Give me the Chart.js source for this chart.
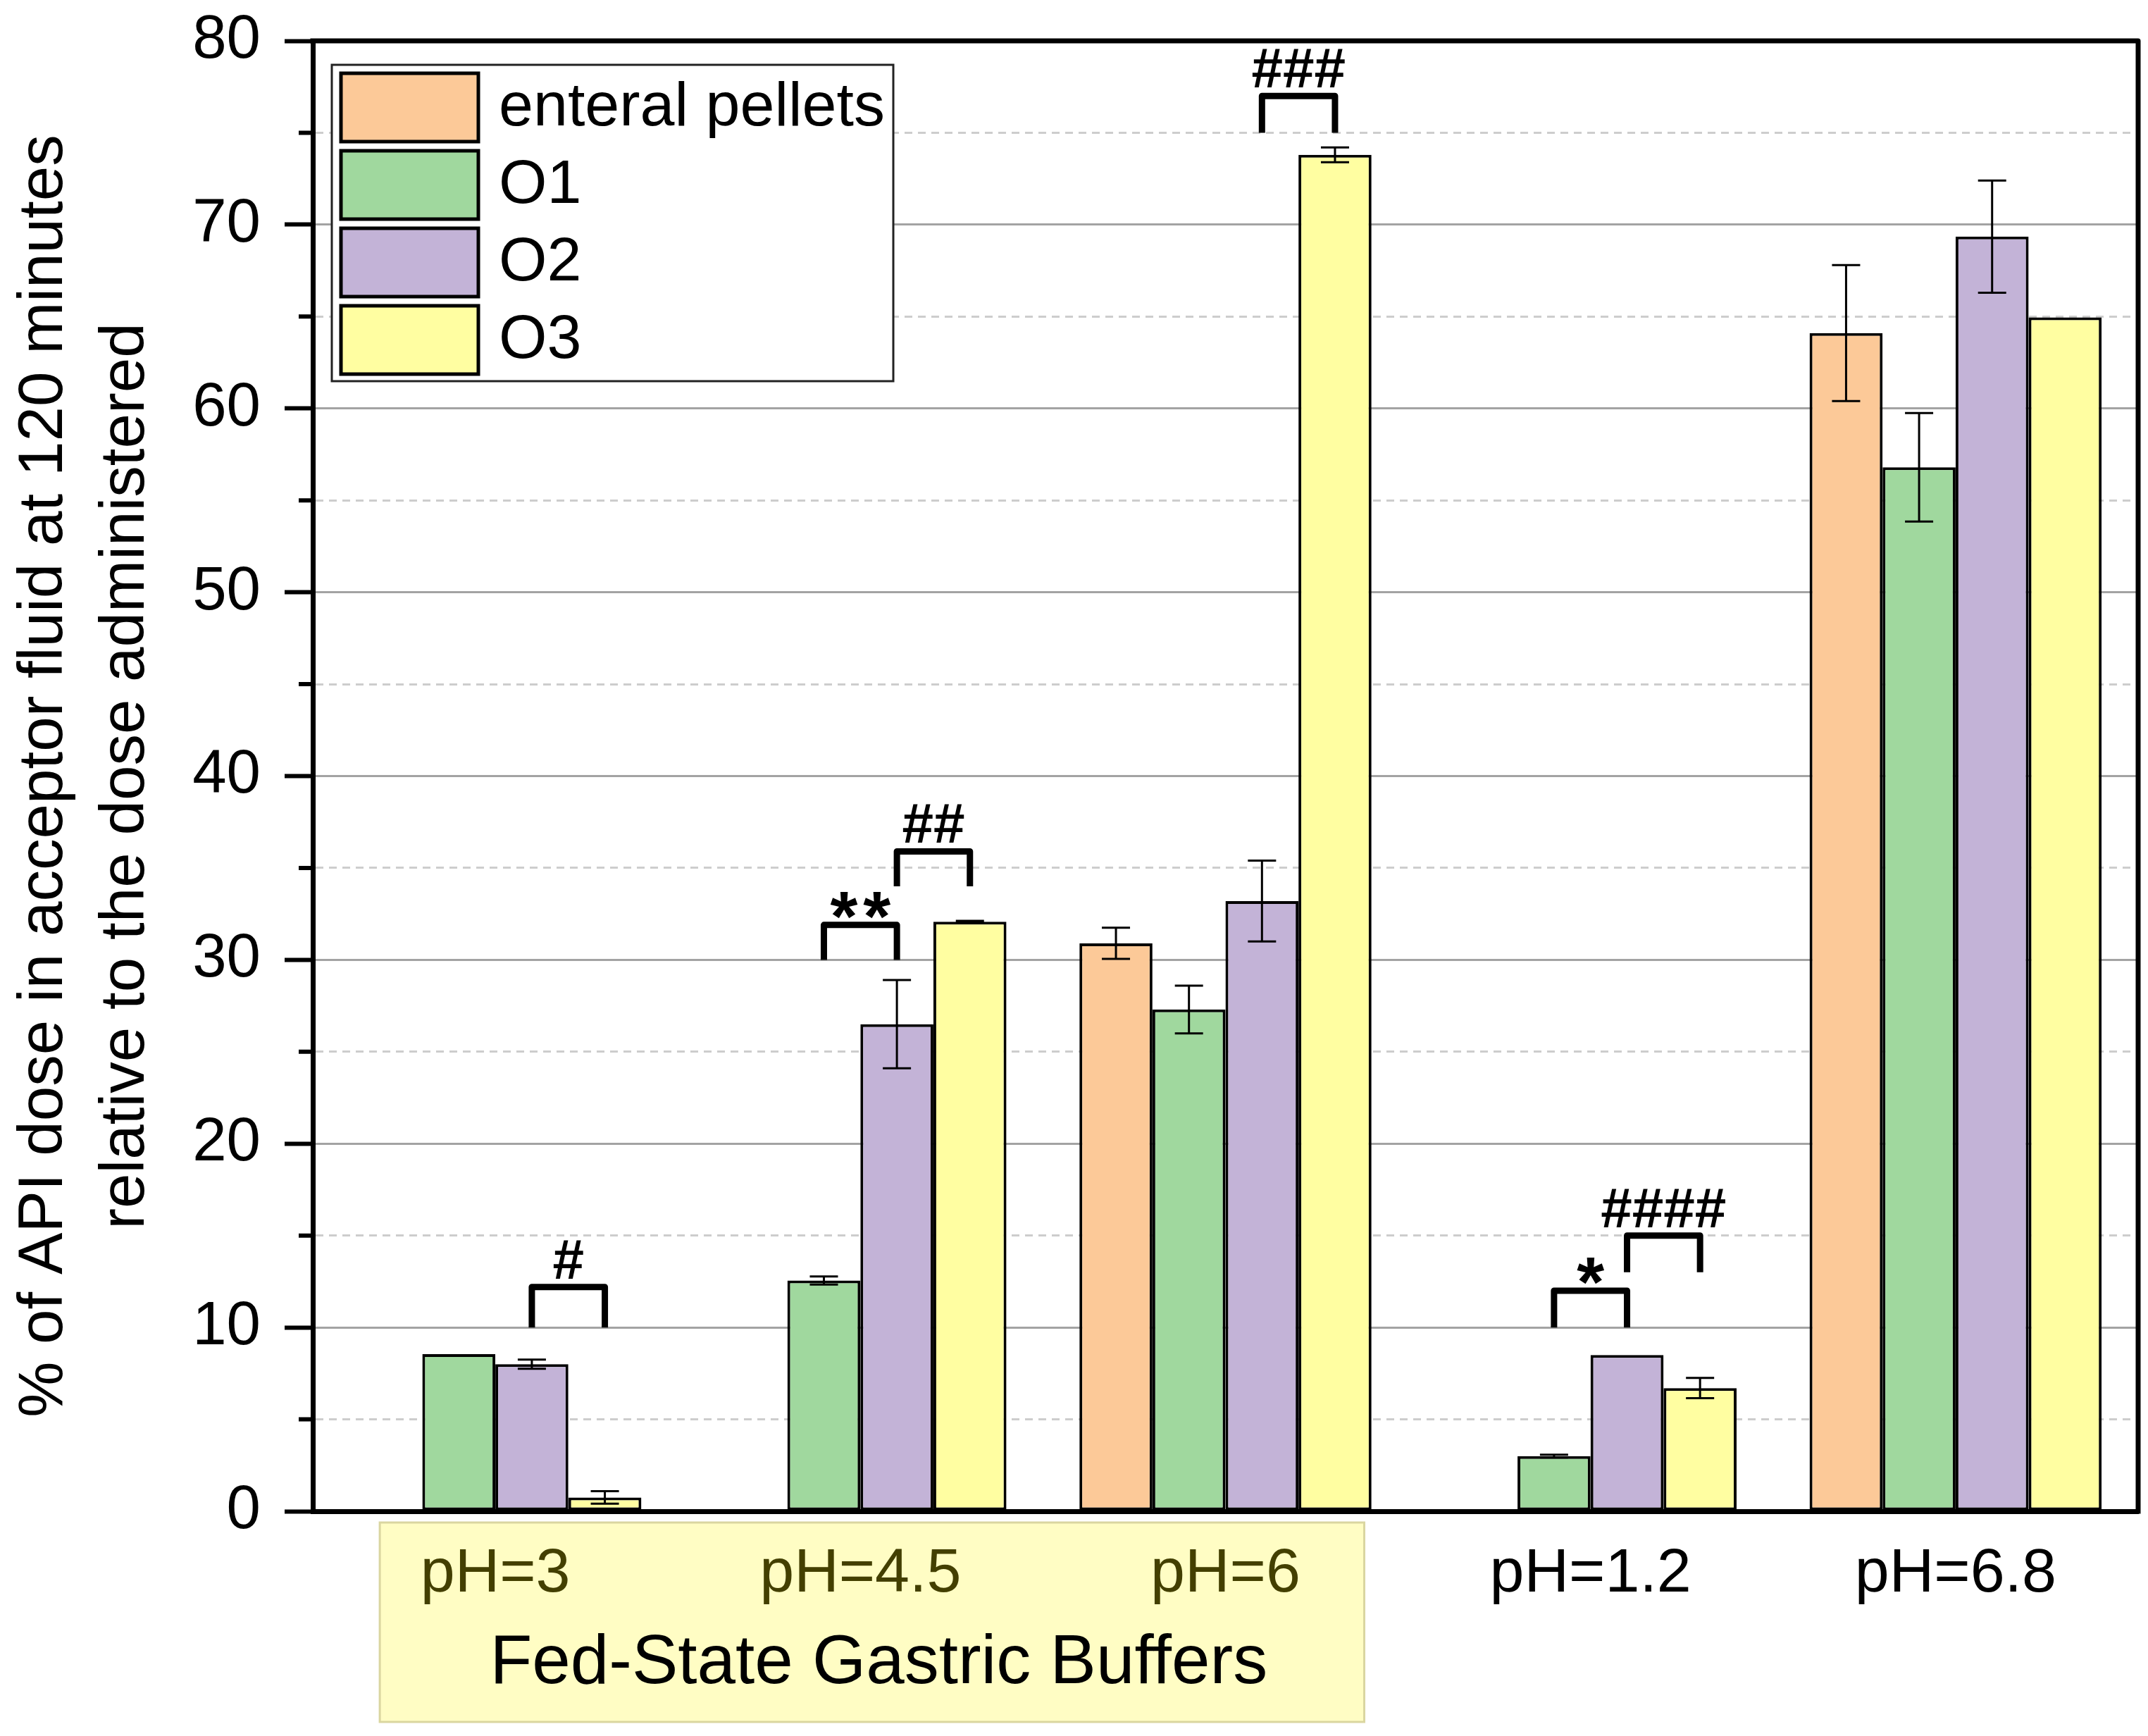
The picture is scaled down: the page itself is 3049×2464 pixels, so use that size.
<!DOCTYPE html>
<html>
<head>
<meta charset="utf-8">
<script src="https://cdn.jsdelivr.net/npm/chart.js@4.4.1/dist/chart.umd.min.js"></script>
<style>
  html, body { margin: 0; padding: 0; background: #fff; }
  canvas { display: block; }
</style>
</head>
<body>
<canvas id="chart" width="3049" height="2464"></canvas>
<script>
// ---------- data ----------
const categories = ['pH=3', 'pH=4.5', 'pH=6', 'pH=1.2', 'pH=6.8'];
const seriesNames = ['enteral pellets', 'O1', 'O2', 'O3'];

const enteralValues = [null, null, 30.9, null, 64.1];
const enteralErrors = [null, null, 0.85, null, 3.7];
const o1Values = [8.55, 12.55, 27.3, 3.0, 56.8];
const o1Errors = [0, 0.22, 1.3, 0.08, 2.95];
const o2Values = [8.0, 26.5, 33.2, 8.5, 69.35];
const o2Errors = [0.25, 2.4, 2.2, 0, 3.05];
const o3Values = [0.75, 32.07, 73.8, 6.7, 64.95];
const o3Errors = [0.34, 0.05, 0.4, 0.55, 0];

const yTicks = [0, 10, 20, 30, 40, 50, 60, 70, 80];

// significance brackets: category index, dataset pair, bracket foot / top (y units), label
const sigMarks = [
    { cat: 0, from: 2, to: 3, base: 10, top: 12.2, text: '#' },
    { cat: 1, from: 1, to: 2, base: 30, top: 31.9, text: '**' },
    { cat: 1, from: 2, to: 3, base: 34, top: 35.9, text: '##' },
    { cat: 2, from: 2, to: 3, base: 75, top: 77, text: '###' },
    { cat: 3, from: 1, to: 2, base: 10, top: 12, text: '*' },
    { cat: 3, from: 2, to: 3, base: 13, top: 15, text: '####' }
];

const colors = ['#FCC998', '#A0D89E', '#C3B3D7', '#FFFEA1'];
const FONT = "'Liberation Sans', Arial, sans-serif";
Chart.defaults.font.family = FONT;
Chart.defaults.color = '#000';

// yellow box + group title under the first three categories
const bufferBoxPlugin = {
    id: 'bufferBox',
    beforeDraw(chart) {
        const { ctx, scales: { x } } = chart;
        ctx.save();
        ctx.fillStyle = '#fff';
        ctx.fillRect(0, 0, chart.width, chart.height);
        const p0 = x.getPixelForValue(0);
        const p2 = x.getPixelForValue(2);
        const left = p0 - 164, right = p2 + 197;
        ctx.fillStyle = '#FFFDC4';
        ctx.fillRect(left, 2161, right - left, 2444 - 2161);
        ctx.strokeStyle = '#DAD6A0';
        ctx.lineWidth = 3;
        ctx.strokeRect(left, 2161, right - left, 2444 - 2161);
        ctx.restore();
    },
    afterDraw(chart) {
        const { ctx, scales: { x } } = chart;
        const p0 = x.getPixelForValue(0);
        const p2 = x.getPixelForValue(2);
        ctx.save();
        ctx.fillStyle = '#000';
        ctx.font = '98px ' + FONT;
        ctx.textAlign = 'center';
        ctx.textBaseline = 'middle';
        ctx.fillText('Fed-State Gastric Buffers', (p0 + p2) / 2 + 26, 2362);
        ctx.restore();
    }
};

// frame, minor ticks, error bars, brackets, legend
const decorPlugin = {
    id: 'decor',
    afterDatasetsDraw(chart) {
        const { ctx, chartArea: a, scales: { y } } = chart;
        ctx.save();
        // error bars
        ctx.strokeStyle = '#000';
        ctx.lineWidth = 3;
        chart.data.datasets.forEach((ds, di) => {
            const meta = chart.getDatasetMeta(di);
            meta.data.forEach((bar, i) => {
                const v = ds.data[i], e = ds.errors[i];
                if (v == null || !e) return;
                const yt = y.getPixelForValue(v + e), yb = y.getPixelForValue(v - e);
                ctx.beginPath();
                ctx.moveTo(bar.x, yt); ctx.lineTo(bar.x, yb);
                ctx.moveTo(bar.x - 20, yt); ctx.lineTo(bar.x + 20, yt);
                ctx.moveTo(bar.x - 20, yb); ctx.lineTo(bar.x + 20, yb);
                ctx.stroke();
            });
        });
        // significance brackets
        ctx.lineWidth = 9;
        ctx.lineJoin = 'round';
        sigMarks.forEach(m => {
            const x1 = chart.getDatasetMeta(m.from).data[m.cat].x;
            const x2 = chart.getDatasetMeta(m.to).data[m.cat].x;
            const yb = y.getPixelForValue(m.base), yt = y.getPixelForValue(m.top);
            ctx.beginPath();
            ctx.moveTo(x1, yb); ctx.lineTo(x1, yt); ctx.lineTo(x2, yt); ctx.lineTo(x2, yb);
            ctx.stroke();
            ctx.fillStyle = '#000';
            ctx.textAlign = 'center';
            ctx.textBaseline = 'alphabetic';
            if (m.text[0] === '*') {
                ctx.font = 'bold 100px ' + FONT;
                ctx.letterSpacing = '8px';
                ctx.fillText(m.text, (x1 + x2) / 2 + 4, yt + 22);
                ctx.letterSpacing = '0px';
            } else {
                ctx.font = 'bold 80px ' + FONT;
                ctx.fillText(m.text, (x1 + x2) / 2, yt - 12);
            }
        });
        // minor ticks
        ctx.lineWidth = 6;
        ctx.beginPath();
        for (let v = 5; v < 80; v += 10) {
            const py = y.getPixelForValue(v);
            ctx.moveTo(a.left - 20, py); ctx.lineTo(a.left, py);
        }
        ctx.stroke();
        // top and right frame
        ctx.lineWidth = 7;
        ctx.lineCap = 'square';
        ctx.beginPath();
        ctx.moveTo(a.left, a.top); ctx.lineTo(a.right, a.top); ctx.lineTo(a.right, a.bottom);
        ctx.stroke();
        ctx.restore();
    },
    afterDraw(chart) {
        const { ctx, chartArea: a } = chart;
        const bx = a.left + 27, by = a.top + 34, bw = 797, bh = 449;
        ctx.save();
        ctx.fillStyle = '#fff';
        ctx.fillRect(bx, by, bw, bh);
        ctx.strokeStyle = '#222';
        ctx.lineWidth = 3;
        ctx.strokeRect(bx, by, bw, bh);
        ctx.font = '88px ' + FONT;
        ctx.textBaseline = 'middle';
        ctx.textAlign = 'left';
        chart.data.datasets.forEach((ds, i) => {
            const ry = by + 12 + i * 110;
            ctx.fillStyle = ds.backgroundColor;
            ctx.fillRect(bx + 13, ry, 195, 97);
            ctx.strokeStyle = '#000';
            ctx.lineWidth = 5;
            ctx.strokeRect(bx + 13, ry, 195, 97);
            ctx.fillStyle = '#000';
            ctx.fillText(ds.label, bx + 237, ry + 50);
        });
        ctx.restore();
    }
};

const allValues = [enteralValues, o1Values, o2Values, o3Values];
const allErrors = [enteralErrors, o1Errors, o2Errors, o3Errors];

new Chart(document.getElementById('chart'), {
    type: 'bar',
    data: {
        labels: categories,
        datasets: seriesNames.map((name, i) => ({
            label: name,
            data: allValues[i],
            errors: allErrors[i],
            backgroundColor: colors[i],
            borderColor: '#000',
            borderWidth: 4,
            borderSkipped: false,
            categoryPercentage: 0.8,
            barPercentage: 1.0
        }))
    },
    options: {
        responsive: false,
        devicePixelRatio: 1,
        animation: false,
        layout: { padding: { top: 58, right: 14, left: 0, bottom: 0 } },
        plugins: { legend: { display: false }, tooltip: { enabled: false } },
        scales: {
            x: {
                grid: { display: true, drawOnChartArea: false, drawTicks: false },
                border: { display: true, color: '#000', width: 7 },
                ticks: {
                    padding: 37,
                    font: { size: 88 },
                    color: ctx => ctx.index < 3 ? '#433F00' : '#000'
                },
                afterFit(scale) { scale.height = 2464 - 2145; }
            },
            y: {
                min: 0,
                max: 80,
                ticks: {
                    stepSize: 5,
                    padding: 34,
                    font: { size: 87 },
                    callback: v => yTicks.includes(v) ? v : ''
                },
                grid: {
                    color: ctx => ctx.tick && ctx.tick.value % 10 === 0 ? '#A3A3A3' : '#CDCDCD',
                    lineWidth: 3,
                    tickLength: 40,
                    tickWidth: 6,
                    tickColor: ctx => ctx.tick && ctx.tick.value % 10 === 0 ? '#000' : 'rgba(0,0,0,0)'
                },
                border: {
                    display: true,
                    color: '#000',
                    width: 7,
                    dash: ctx => ctx.tick && ctx.tick.value % 10 !== 0 ? [11, 8] : []
                },
                title: {
                    display: true,
                    text: ['% of API dose in acceptor fluid at 120 minutes', 'relative to the dose administered'],
                    font: { size: 89, lineHeight: 1.3 },
                    padding: { top: 6, bottom: 0 }
                },
                afterFit(scale) {
                    scale.width = 444;
                    scale.paddingTop = 0;
                    scale.paddingBottom = 0;
                }
            }
        }
    },
    plugins: [bufferBoxPlugin, decorPlugin]
});
</script>
</body>
</html>
